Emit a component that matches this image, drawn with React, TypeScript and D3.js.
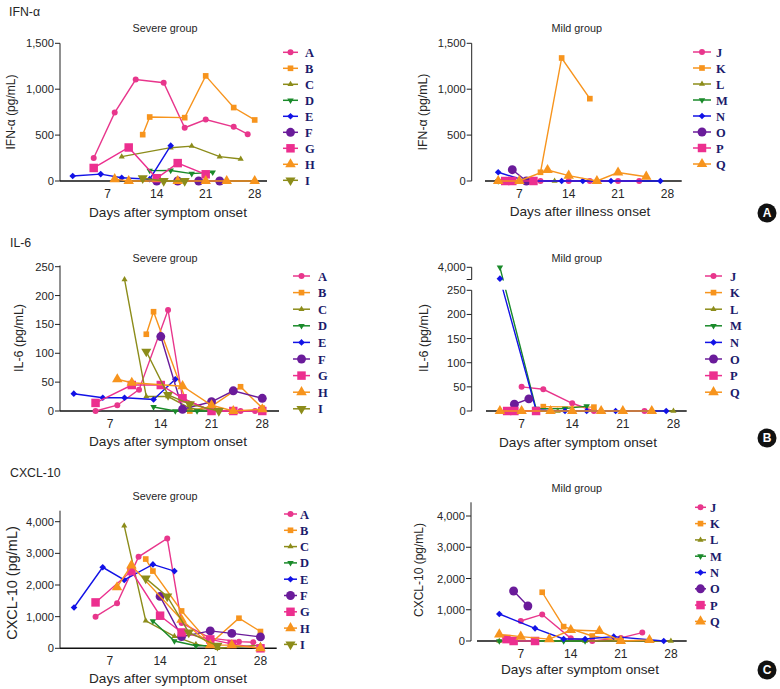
import React from 'react';
import * as d3 from 'd3';

type Pt = [number, number];

const FONT = "'Liberation Sans', Arial, Helvetica, sans-serif";
const SERIF = "'Liberation Serif', 'Times New Roman', serif";

const SEVERE_IDS = ['A', 'B', 'C', 'D', 'E', 'F', 'G', 'H', 'I'];
const MILD_IDS = ['J', 'K', 'L', 'M', 'N', 'O', 'P', 'Q'];

// IFN-alpha, severe group (A..I): [day, pg/mL]
const IFN_SEVERE: Pt[][] = [
  [[5, 250], [8, 745], [11, 1105], [15, 1070], [18, 580], [21, 670], [25, 590], [27, 510]],
  [[12, 505], [13, 697], [18, 690], [21, 1145], [25, 800], [28, 665]],
  [[9, 265], [16, 363], [19, 380], [23, 265], [26, 240]],
  [[13, 113], [16, 115], [19, 80], [22, 95]],
  [[2, 55], [6, 75], [9, 35], [13, 20], [16, 385]],
  [[14, 0], [17, 0], [20, 0], [23, 0]],
  [[5, 142], [10, 365], [14, 30], [17, 195], [21, 73]],
  [[8, 20], [10, 0], [17, 0], [21, 0], [24, 0], [28, 0]],
  [[12, 30], [15, 0], [18, 0]],
];

// IFN-alpha, mild group (J..Q)
const IFN_MILD: Pt[][] = [
  [[10, 0], [14, 0], [17, 0], [21, 0], [24, 0]],
  [[10, 95], [13, 1340], [17, 897]],
  [[12, 0]],
  [[4, 0], [9, 0]],
  [[4, 95], [8, 0], [13, 0], [16, 0], [20, 0], [27, 0]],
  [[6, 123], [8, 0]],
  [[5, 0], [6, 0], [9, 0]],
  [[4, 0], [7, 0], [11, 120], [14, 58], [18, 0], [21, 92], [25, 47]],
];

// IL-6, severe group
const IL6_SEVERE: Pt[][] = [
  [[5, 0], [8, 10], [11, 37], [15, 175], [17, 22], [21, 0], [25, 0], [27, 0]],
  [[12, 133], [13, 172], [18, 0], [21, 8], [25, 42], [28, 5]],
  [[9, 228], [12, 25], [15, 25], [18, 5], [21, 0]],
  [[13, 7], [16, 0], [19, 0], [22, 0]],
  [[2, 30], [6, 23], [9, 23], [13, 20], [16, 55]],
  [[14, 129], [17, 3], [21, 16], [24, 35], [28, 22]],
  [[5, 14], [10, 45], [14, 45], [17, 22], [21, 0], [24, 0], [28, 0]],
  [[8, 55], [10, 49], [17, 43], [21, 10], [24, 0], [28, 3]],
  [[12, 103], [15, 28], [18, 12], [22, 0]],
];

// IL-6, mild group (broken axis: values above 250 sit on the upper segment)
const IL6_MILD: Pt[][] = [
  [[7, 50], [10, 45], [14, 16], [17, 0], [24, 0]],
  [[10, 9], [17, 8]],
  [[12, 0], [28, 0]],
  [[4, 4000], [9, 5], [13, 5], [16, 10]],
  [[4, 3720], [9, 2], [13, 0], [16, 0], [20, 0], [27, 0]],
  [[6, 14], [8, 25]],
  [[5, 0], [6, 0], [9, 0]],
  [[4, 0], [7, 0], [11, 0], [14, 0], [18, 0], [21, 0], [25, 0]],
];

// CXCL-10, severe group
const CXCL_SEVERE: Pt[][] = [
  [[5, 1000], [8, 1420], [11, 2890], [15, 3470], [17, 800], [21, 320], [25, 210], [27, 190]],
  [[12, 2820], [13, 2440], [17, 1180], [21, 140], [25, 950], [28, 530]],
  [[9, 3870], [12, 870], [16, 380], [19, 130], [22, 0], [28, 100]],
  [[13, 860], [16, 230], [19, 80], [22, 80]],
  [[2, 1290], [6, 2560], [9, 2160], [13, 2650], [16, 2440]],
  [[14, 1640], [17, 370], [21, 550], [24, 470], [28, 360]],
  [[5, 1450], [10, 2440], [14, 1030], [17, 500], [21, 280], [24, 140], [28, 0]],
  [[8, 1930], [10, 2620], [17, 900], [21, 100], [24, 100], [28, 0]],
  [[12, 2210], [15, 1640], [18, 500], [22, 80]],
];

// CXCL-10, mild group
const CXCL_MILD: Pt[][] = [
  [[7, 640], [10, 850], [14, 85], [17, 0], [21, 100], [24, 270]],
  [[10, 1560], [13, 460], [17, 160], [21, 0]],
  [[4, 0], [16, 0], [28, 0]],
  [[4, 0], [9, 0], [13, 0], [16, 0]],
  [[4, 864], [9, 405], [13, 64], [16, 64], [20, 140], [27, 0]],
  [[6, 1600], [8, 1120]],
  [[5, 60], [6, 0], [9, 0]],
  [[4, 210], [7, 140], [11, 60], [14, 350], [18, 320], [21, 0], [25, 30]],
];

const DAY_TICKS = [7, 14, 21, 28];
const IFN_TICKS = [0, 500, 1000, 1500];
const IL6_TICKS = [0, 50, 100, 150, 200, 250];
const IL6_UPPER_TICKS = [4000];
const CXCL_TICKS = [0, 1000, 2000, 3000, 4000];

type Shape = 'circle' | 'square' | 'triangle' | 'triangleDown' | 'diamond';
interface SeriesStyle { color: string; shape: Shape; size: number }

const STYLES: SeriesStyle[] = [
  { color: '#e8368c', shape: 'circle', size: 28 },
  { color: '#f7941d', shape: 'square', size: 32 },
  { color: '#8c8c1a', shape: 'triangle', size: 16 },
  { color: '#1a8a2a', shape: 'triangleDown', size: 18 },
  { color: '#1212e6', shape: 'diamond', size: 22 },
  { color: '#6a1b9a', shape: 'circle', size: 62 },
  { color: '#ec2f8f', shape: 'square', size: 72 },
  { color: '#f7941d', shape: 'triangle', size: 48 },
  { color: '#8c8c1a', shape: 'triangleDown', size: 44 },
];

interface PanelCfg {
  key: string;
  ids: string[];
  series: Pt[][];
  x0: number; ppd: number;
  yDomain: [number, number]; yRange: [number, number]; yAxisTop: number;
  ticks: number[];
  upper?: { domain: [number, number]; range: [number, number]; ticks: number[] };
  axisX: number; xStart: number; xEnd: number;
  yLabel: string; yLabelX: number; yLabelY: number; yLabelSize: number;
  sub: string; subX: number; subY: number;
  xLabel: string; xLabelX: number; xLabelY: number;
  lx1: number; lx2: number; ltx: number; ly0: number; lstep: number;
}

const PANELS: PanelCfg[] = [
  {
    key: 'ifnS', ids: SEVERE_IDS, series: IFN_SEVERE, x0: 58.7, ppd: 7,
    yDomain: [0, 1500], yRange: [181, 43.3], yAxisTop: 43.3, ticks: IFN_TICKS,
    axisX: 60, xStart: 60, xEnd: 267,
    yLabel: 'IFN-α (pg/mL)', yLabelX: 10.5, yLabelY: 112, yLabelSize: 12,
    sub: 'Severe group', subX: 165, subY: 32,
    xLabel: 'Days after symptom onset', xLabelX: 168, xLabelY: 217,
    lx1: 283, lx2: 298, ltx: 305, ly0: 52.3, lstep: 16,
  },
  {
    key: 'ifnM', ids: MILD_IDS, series: IFN_MILD, x0: 470, ppd: 7.05,
    yDomain: [0, 1500], yRange: [181, 43.3], yAxisTop: 43.3, ticks: IFN_TICKS,
    axisX: 471.7, xStart: 485, xEnd: 681.7,
    yLabel: 'IFN-α (pg/mL)', yLabelX: 423, yLabelY: 112, yLabelSize: 12.3,
    sub: 'Mild group', subX: 576.7, subY: 32,
    xLabel: 'Days after illness onset', xLabelX: 580, xLabelY: 216,
    lx1: 693, lx2: 711, ltx: 716, ly0: 52, lstep: 16,
  },
  {
    key: 'il6S', ids: SEVERE_IDS, series: IL6_SEVERE, x0: 59.3, ppd: 7.25,
    yDomain: [0, 250], yRange: [411, 266.7], yAxisTop: 265.5, ticks: IL6_TICKS,
    axisX: 60, xStart: 60, xEnd: 279,
    yLabel: 'IL-6 (pg/mL)', yLabelX: 19, yLabelY: 338, yLabelSize: 12.5,
    sub: 'Severe group', subX: 165, subY: 262,
    xLabel: 'Days after symptom onset', xLabelX: 168, xLabelY: 446,
    lx1: 293, lx2: 310, ltx: 318, ly0: 276, lstep: 16.6,
  },
  {
    key: 'il6M', ids: MILD_IDS, series: IL6_MILD, x0: 471, ppd: 7.23,
    yDomain: [0, 250], yRange: [411, 290.3], yAxisTop: 290.3, ticks: IL6_TICKS,
    upper: { domain: [3700, 4000], range: [279.5, 267.3], ticks: IL6_UPPER_TICKS },
    axisX: 471.7, xStart: 486, xEnd: 686.7,
    yLabel: 'IL-6 (pg/mL)', yLabelX: 424, yLabelY: 338, yLabelSize: 12.5,
    sub: 'Mild group', subX: 576.7, subY: 262,
    xLabel: 'Days after symptom onset', xLabelX: 578, xLabelY: 446.7,
    lx1: 705, lx2: 722, ltx: 730, ly0: 276, lstep: 16.6,
  },
  {
    key: 'cxS', ids: SEVERE_IDS, series: CXCL_SEVERE, x0: 59.7, ppd: 7.17,
    yDomain: [0, 4000], yRange: [648.3, 521.7], yAxisTop: 510.7, ticks: CXCL_TICKS,
    axisX: 60, xStart: 60, xEnd: 276.7,
    yLabel: 'CXCL-10 (pg/mL)', yLabelX: 12, yLabelY: 583, yLabelSize: 14.5,
    sub: 'Severe group', subX: 165, subY: 500,
    xLabel: 'Days after symptom onset', xLabelX: 168, xLabelY: 683,
    lx1: 284, lx2: 297, ltx: 300, ly0: 514, lstep: 16.3,
  },
  {
    key: 'cxM', ids: MILD_IDS, series: CXCL_MILD, x0: 470.7, ppd: 7.15,
    yDomain: [0, 4000], yRange: [641, 516], yAxisTop: 502.3, ticks: CXCL_TICKS,
    axisX: 471, xStart: 477, xEnd: 686.7,
    yLabel: 'CXCL-10 (pg/mL)', yLabelX: 419, yLabelY: 570, yLabelSize: 12,
    sub: 'Mild group', subX: 576.7, subY: 492,
    xLabel: 'Days after symptom onset', xLabelX: 580, xLabelY: 674,
    lx1: 695, lx2: 706, ltx: 710, ly0: 507.3, lstep: 16.3,
  },
];

const fmt = d3.format(',');
const TEXT = '#262626';

function Marker({ st, cx, cy }: { st: SeriesStyle; cx: number; cy: number }) {
  let type: d3.SymbolType = d3.symbolCircle;
  let rot = 0;
  if (st.shape === 'square') type = d3.symbolSquare;
  if (st.shape === 'triangle') type = d3.symbolTriangle;
  if (st.shape === 'triangleDown') { type = d3.symbolTriangle; rot = 180; }
  if (st.shape === 'diamond') { type = d3.symbolSquare; rot = 45; }
  const d = d3.symbol().type(type).size(st.size)() || '';
  return <path d={d} transform={`translate(${cx},${cy}) rotate(${rot})`} fill={st.color} />;
}

function Panel({ cfg }: { cfg: PanelCfg }) {
  const x = d3.scaleLinear().domain([0, 28]).range([cfg.x0, cfg.x0 + 28 * cfg.ppd]);
  const yLow = d3.scaleLinear().domain(cfg.yDomain).range(cfg.yRange);
  const yUp = cfg.upper ? d3.scaleLinear().domain(cfg.upper.domain).range(cfg.upper.range) : null;
  const y = (v: number) => (yUp && v > cfg.yDomain[1] ? yUp(v) : yLow(v));
  const line = d3.line<Pt>().x(d => x(d[0])).y(d => y(d[1]));
  const clipId = `clip-${cfg.key}`;
  const baseY = cfg.yRange[0];
  return (
    <g>
      {cfg.upper && (
        <clipPath id={clipId}>
          <rect x={0} y={0} width={780} height={cfg.upper.range[0] + 1} />
          <rect x={0} y={cfg.yRange[1] - 0.5} width={780} height={300} />
        </clipPath>
      )}
      {/* y axis */}
      <line x1={cfg.axisX} x2={cfg.axisX} y1={baseY} y2={cfg.yAxisTop} stroke="#222" strokeWidth={1} />
      {cfg.ticks.map(t => (
        <g key={t}>
          <line x1={cfg.axisX - 5} x2={cfg.axisX} y1={yLow(t)} y2={yLow(t)} stroke="#222" strokeWidth={1} />
          <text x={cfg.axisX - 6} y={yLow(t)} dy="0.36em" textAnchor="end" fontSize={11.2} fill={TEXT}>{fmt(t)}</text>
        </g>
      ))}
      {cfg.upper && yUp && (
        <g>
          <line x1={cfg.axisX} x2={cfg.axisX} y1={cfg.upper.range[0]} y2={cfg.upper.range[1]} stroke="#222" strokeWidth={1} />
          <line x1={cfg.axisX - 5} x2={cfg.axisX} y1={cfg.upper.range[0]} y2={cfg.upper.range[0]} stroke="#222" strokeWidth={1} />
          {cfg.upper.ticks.map(t => (
            <g key={t}>
              <line x1={cfg.axisX - 5} x2={cfg.axisX} y1={yUp(t)} y2={yUp(t)} stroke="#222" strokeWidth={1} />
              <text x={cfg.axisX - 6} y={yUp(t)} dy="0.36em" textAnchor="end" fontSize={11.2} fill={TEXT}>{fmt(t)}</text>
            </g>
          ))}
        </g>
      )}
      {/* x axis */}
      <line x1={cfg.xStart} x2={cfg.xEnd} y1={baseY} y2={baseY} stroke="#111" strokeWidth={1.6} />
      {DAY_TICKS.map(t => (
        <text key={t} x={x(t)} y={baseY + 17} textAnchor="middle" fontSize={12} fill={TEXT}>{t}</text>
      ))}
      {/* labels */}
      <text x={cfg.subX} y={cfg.subY} textAnchor="middle" fontSize={10.8} fill={TEXT}>{cfg.sub}</text>
      <text x={cfg.xLabelX} y={cfg.xLabelY} textAnchor="middle" fontSize={13.6} fill={TEXT}>{cfg.xLabel}</text>
      <text transform={`translate(${cfg.yLabelX},${cfg.yLabelY}) rotate(-90)`} textAnchor="middle" dominantBaseline="central" fontSize={cfg.yLabelSize} fill={TEXT}>{cfg.yLabel}</text>
      {/* series */}
      {cfg.series.map((s, i) => {
        const st = STYLES[i];
        return (
          <g key={cfg.ids[i]}>
            <path d={line(s) || ''} fill="none" stroke={st.color} strokeWidth={1.4}
              clipPath={cfg.upper ? `url(#${clipId})` : undefined} />
            {s.map((p, j) => <Marker key={j} st={st} cx={x(p[0])} cy={y(p[1])} />)}
          </g>
        );
      })}
      {/* legend */}
      {cfg.ids.map((id, i) => {
        const st = STYLES[i];
        const ly = cfg.ly0 + i * cfg.lstep;
        return (
          <g key={id}>
            <line x1={cfg.lx1} x2={cfg.lx2} y1={ly} y2={ly} stroke={st.color} strokeWidth={1.5} />
            <Marker st={st} cx={(cfg.lx1 + cfg.lx2) / 2} cy={ly} />
            <text x={cfg.ltx} y={ly} dy="0.36em" fontFamily={SERIF} fontWeight="bold" fontSize={12.5} fill="#1b1b6b">{id}</text>
          </g>
        );
      })}
    </g>
  );
}

const TITLES = [
  { text: 'IFN-α', x: 9, y: 16 },
  { text: 'IL-6', x: 10, y: 247 },
  { text: 'CXCL-10', x: 10, y: 477 },
];
const BADGES = [
  { text: 'A', x: 767, y: 213 },
  { text: 'B', x: 767, y: 438 },
  { text: 'C', x: 767, y: 670 },
];

export default function App() {
  return (
    <svg width={780} height={689} viewBox="0 0 780 689"
      style={{ position: 'absolute', left: 0, top: 0, background: '#fff' }} fontFamily={FONT}>
      <rect x={0} y={0} width={780} height={689} fill="#fff" />
      {TITLES.map(t => (
        <text key={t.text} x={t.x} y={t.y} fontSize={12.3} fill={TEXT}>{t.text}</text>
      ))}
      {PANELS.map(p => <Panel key={p.key} cfg={p} />)}
      {BADGES.map(b => (
        <g key={b.text}>
          <circle cx={b.x} cy={b.y} r={9.5} fill="#111" />
          <text x={b.x} y={b.y} dy="0.36em" textAnchor="middle" fontSize={12} fontWeight="bold" fill="#fff">{b.text}</text>
        </g>
      ))}
    </svg>
  );
}
